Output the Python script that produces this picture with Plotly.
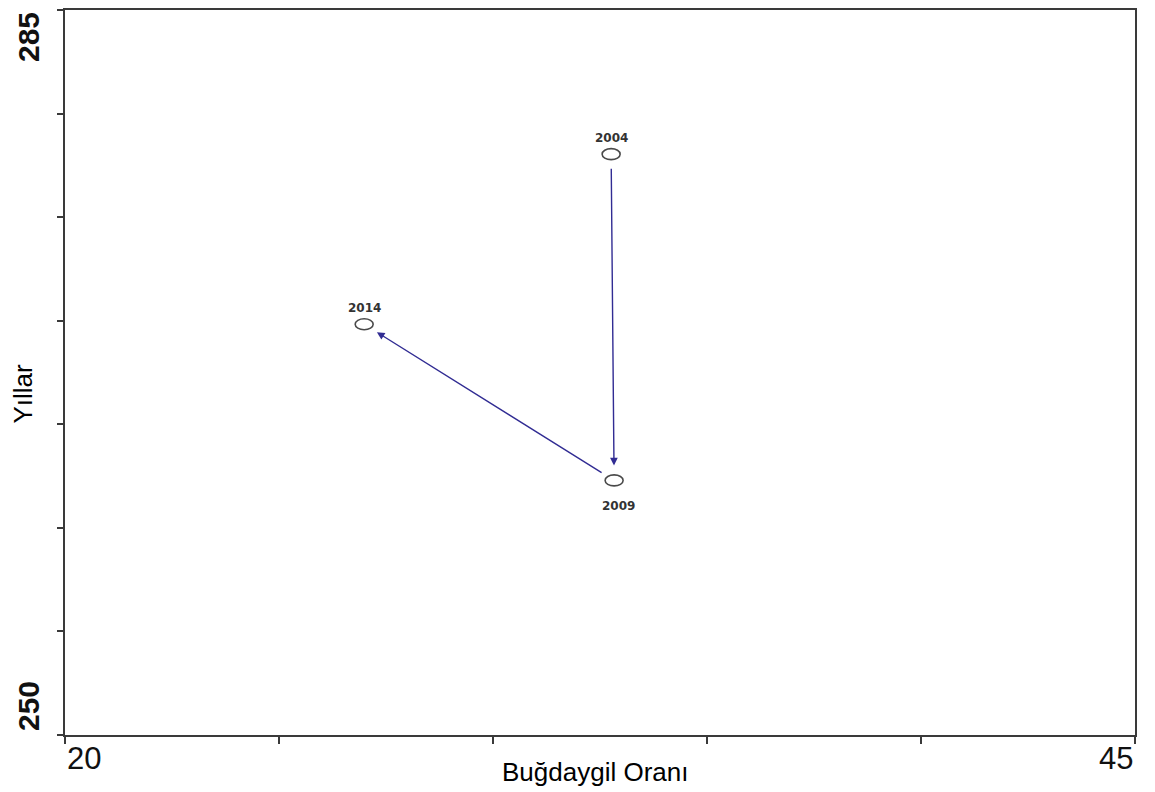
import plotly.graph_objects as go

# ---- data ----
years = ["2004", "2009", "2014"]
grass_ratio = [32.76, 32.83, 26.99]      # x: Buğdaygil Oranı
year_score = [278.04, 262.29, 269.83]    # y: Yıllar
label_side = ["above", "below", "above"]

x_ticks = [20, 25, 30, 35, 40, 45]
y_ticks = [250, 255, 260, 265, 270, 275, 280, 285]
x_range = [20, 45]
y_range = [250, 285]

axis_color = "#3a3a3a"
arrow_color = "#312c93"
marker_color = "#4a4a4a"

fig = go.Figure()

# invisible trace carrying the points (for scale)
fig.add_trace(go.Scatter(
    x=grass_ratio, y=year_score, mode="markers",
    marker=dict(size=1, opacity=0), hoverinfo="skip", showlegend=False))

# hollow elliptical markers at the data points
for xv, yv in zip(grass_ratio, year_score):
    fig.add_shape(type="circle", xref="x", yref="y",
                  xsizemode="pixel", ysizemode="pixel",
                  xanchor=xv, yanchor=yv, x0=-9, x1=9, y0=-5.5, y1=5.5,
                  line=dict(color=marker_color, width=1.6),
                  fillcolor="rgba(0,0,0,0)")

# year labels
for xv, yv, t, side in zip(grass_ratio, year_score, years, label_side):
    fig.add_annotation(x=xv, y=yv, xref="x", yref="y", text=t, showarrow=False,
                       yshift=16 if side == "above" else -26,
                       xshift=0 if side == "above" else 4,
                       font=dict(family="DejaVu Sans", size=12, color="#333333",
                                 weight="bold"),
                       xanchor="center", yanchor="middle")

# arrows between consecutive years
for i in range(len(years) - 1):
    fig.add_annotation(x=grass_ratio[i + 1], y=year_score[i + 1],
                       ax=grass_ratio[i], ay=year_score[i],
                       xref="x", yref="y", axref="x", ayref="y",
                       text="", showarrow=True, arrowhead=2, arrowsize=1.1,
                       arrowwidth=1.4, arrowcolor=arrow_color,
                       standoff=15, startstandoff=13)

# end tick labels
fig.add_annotation(x=x_range[0], xref="x", y=0, yref="paper", text=str(x_range[0]),
                   showarrow=False, xanchor="left", yanchor="middle", yshift=-23,
                   font=dict(family="Liberation Sans, Arial", size=31, color="#111111"))
fig.add_annotation(x=x_range[1], xref="x", y=0, yref="paper", text=str(x_range[1]),
                   showarrow=False, xanchor="right", yanchor="middle", yshift=-23,
                   font=dict(family="Liberation Sans, Arial", size=31, color="#111111"))
fig.add_annotation(x=0, xref="paper", y=y_range[1], yref="y", text=str(y_range[1]),
                   showarrow=False, textangle=-90, xanchor="center", yanchor="middle",
                   xshift=-37, yshift=-27,
                   font=dict(family="Liberation Sans Narrow, Arial Narrow, Liberation Sans",
                             size=30, color="#111111", weight="bold"))
fig.add_annotation(x=0, xref="paper", y=y_range[0], yref="y", text=str(y_range[0]),
                   showarrow=False, textangle=-90, xanchor="center", yanchor="middle",
                   xshift=-37, yshift=29,
                   font=dict(family="Liberation Sans Narrow, Arial Narrow, Liberation Sans",
                             size=30, color="#111111", weight="bold"))

# axis titles
fig.add_annotation(x=0.5, xref="paper", y=0, yref="paper", text="Buğdaygil Oranı",
                   showarrow=False, xanchor="center", yanchor="middle",
                   xshift=-5, yshift=-37,
                   font=dict(family="Liberation Sans, Arial", size=26, color="#000000"))
fig.add_annotation(x=0, xref="paper", y=0.5, yref="paper", text="Yıllar",
                   showarrow=False, textangle=-90, xanchor="center", yanchor="middle",
                   xshift=-43, yshift=-21,
                   font=dict(family="Liberation Sans, Arial", size=26, color="#000000"))

fig.update_xaxes(range=x_range, tickvals=x_ticks, showticklabels=False,
                 ticks="outside", ticklen=7, tickwidth=1.5, tickcolor=axis_color,
                 showline=True, linecolor=axis_color, linewidth=2, mirror=True,
                 showgrid=False, zeroline=False)
fig.update_yaxes(range=y_range, tickvals=y_ticks, showticklabels=False,
                 ticks="outside", ticklen=6, tickwidth=1.5, tickcolor=axis_color,
                 showline=True, linecolor=axis_color, linewidth=2, mirror=True,
                 showgrid=False, zeroline=False)

# page body has an 8px margin, so the figure is sized to fit inside the window
fig.update_layout(width=1147, height=784,
                  margin=dict(l=57, r=20, t=0, b=57),
                  plot_bgcolor="white", paper_bgcolor="white",
                  showlegend=False)

fig.write_html("out.html")
